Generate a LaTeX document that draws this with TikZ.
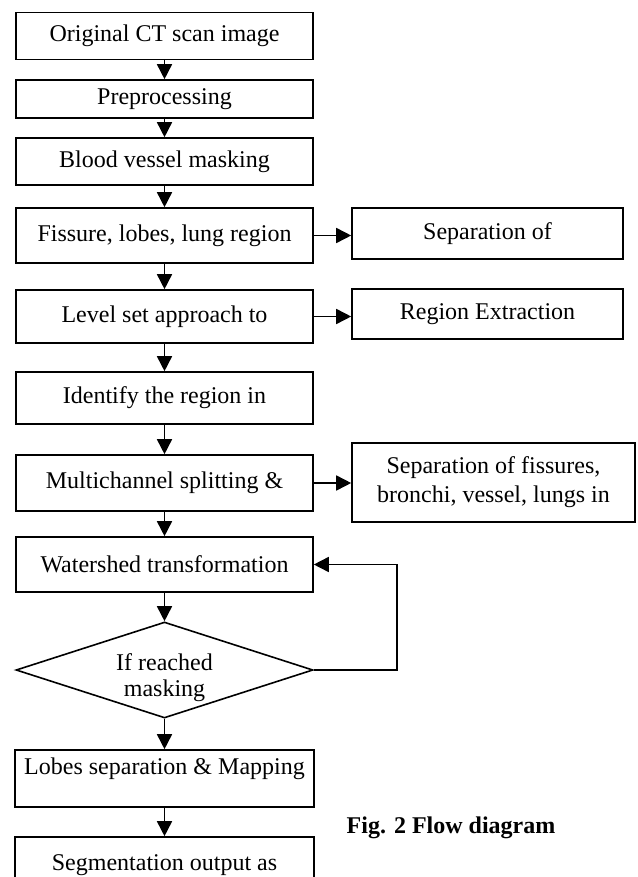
\documentclass[tikz,border=0pt]{standalone}
\usepackage{fontspec}
\setmainfont{Liberation Serif}
\usetikzlibrary{arrows.meta,shapes.geometric}

\begin{document}
\begin{tikzpicture}[x=1pt,y=-1pt,->,>={Triangle[length=15pt,width=15pt]},line width=1.6pt,
  font=\fontsize{24}{29}\selectfont,
  stage/.style={draw,rectangle,minimum width=297pt,inner sep=0pt,align=center},
  side/.style={draw,rectangle,minimum width=271pt,inner sep=0pt,align=center},
  check/.style={draw,diamond,aspect=3,minimum width=297pt,minimum height=96pt,inner sep=-12pt,align=center,
    font=\fontsize{24}{26}\selectfont}]
  \useasboundingbox (0,0) rectangle (637,877);
  % main column
  \node[stage,minimum height=47pt] (ct) at (164.5,36.2) {Original CT scan image};
  \node[stage,minimum height=38pt] (pre) at (164.5,99) {Preprocessing};
  \node[stage,minimum height=47pt] (blood) at (164.5,161.5) {Blood vessel masking};
  \node[stage,minimum height=55pt] (fissure) at (164.5,235.5) {Fissure, lobes, lung region};
  \node[stage,minimum height=53pt] (level) at (164.5,316.5) {Level set approach to};
  \node[stage,minimum height=52pt] (ident) at (164.5,398) {Identify the region in};
  \node[stage,minimum height=56pt] (multi) at (164.5,483) {Multichannel splitting \&};
  \node[stage,minimum height=55pt] (water) at (164.5,564.5) {Watershed transformation};
  \node[check] (reach) at (164.5,670) {\rule{0pt}{33pt}If reached\\masking};
  \node[stage,minimum width=299pt,minimum height=57pt,text depth=25.5pt] (lobes) at (164.5,778.5) {Lobes separation \& Mapping};
  \node[stage,minimum width=299pt,minimum height=56pt] (seg) at (164.5,865) {Segmentation output as};
  % side boxes
  \node[side,minimum height=51pt] (sepone) at (487.5,233.5) {Separation of};
  \node[side,minimum height=50pt] (extract) at (487.5,314) {Region Extraction};
  \node[side,minimum width=283pt,minimum height=79pt] (septwo) at (493.5,482.5) {Separation of fissures,\\bronchi, vessel, lungs in};
  \node[font=\fontsize{24}{29}\selectfont\bfseries] (cap) at (451,828) {Fig. 2 Flow diagram};
  \path (ct) edge (pre)
  (pre) edge (blood)
  (blood) edge (fissure)
  (fissure) edge (level)
  (level) edge (ident)
  (ident) edge (multi)
  (multi) edge (water)
  (water) edge (reach)
  (reach) edge (lobes)
  (lobes) edge (seg)
  (fissure.east) edge (fissure.east -| sepone.west)
  (level.east) edge (level.east -| extract.west)
  (multi.east) edge (multi.east -| septwo.west);
  \coordinate (back) at (397,670);
  \draw (reach.east) -- (back) |- (water.east);
\end{tikzpicture}
\end{document}
